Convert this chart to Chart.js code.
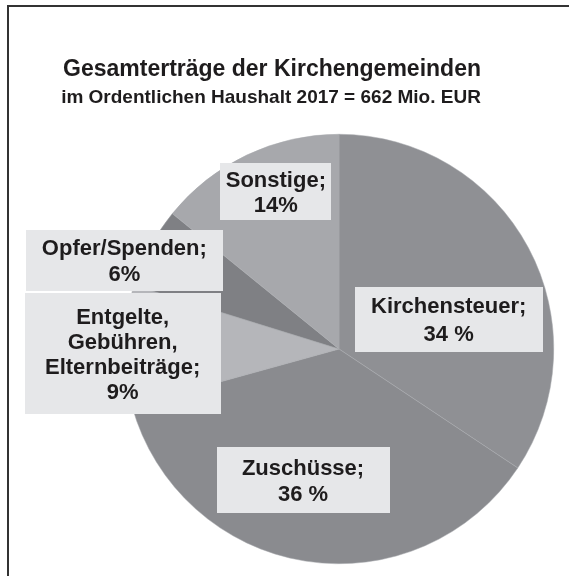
<!DOCTYPE html>
<html>
<head>
<meta charset="utf-8">
<script src="https://cdn.jsdelivr.net/npm/chart.js@4/dist/chart.umd.min.js"></script>
<style>
    body { margin: 0; background: #fff; }
    #wrap { position: relative; width: 569px; height: 576px; overflow: hidden; }
    #frame { position: absolute; left: 7px; top: 5px; width: 700px; height: 700px; border-left: 2px solid #333; border-top: 2px solid #333; }
    #myChart { position: absolute; left: 0; top: 0; }
</style>
</head>
<body>
<div id="wrap">
    <div id="frame"></div>
    <canvas id="myChart" width="569" height="576"></canvas>
</div>
<script>
const categories = [['Kirchensteuer;'], ['Zuschüsse;'], ['Entgelte,', 'Gebühren,', 'Elternbeiträge;'], ['Opfer/Spenden;'], ['Sonstige;']];
const shares = [34, 36, 9, 6, 14];
const pctSep = [' %', ' %', '%', '%', '%'];
const sliceColors = ['#8f9094', '#8a8b8f', '#b5b6ba', '#7f8084', '#a7a8ac'];
const titleText = 'Gesamterträge der Kirchengemeinden';
const subtitleText = 'im Ordentlichen Haushalt 2017 = 662 Mio. EUR';

// label boxes: shift from slice centre, box size, line gap
const boxShift = [[15, 21], [-19, 25], [-109, 6], [-120, -38], [-17, -61]];
const boxSize = [[188, 65], [173, 66], [196, 121], [197, 61], [111, 57]];
const lineGap = [28, 26, 25, 26, 25];

const textFont = 'bold 22px "Liberation Sans", Arial, sans-serif';

const headerPlugin = {
    id: 'header',
    afterDraw: function (chart) {
        const c = chart.ctx;
        c.save();
        c.fillStyle = '#1e1c1d';
        c.textAlign = 'center';
        c.textBaseline = 'alphabetic';
        c.font = 'bold 23px "Liberation Sans", Arial, sans-serif';
        c.fillText(titleText, 272, 76);
        c.font = 'bold 19px "Liberation Sans", Arial, sans-serif';
        c.fillText(subtitleText, 271, 103);
        c.restore();
    }
};

const boxLabels = {
    id: 'boxLabels',
    afterDatasetsDraw: function (chart) {
        const c = chart.ctx, meta = chart.getDatasetMeta(0);
        c.save();
        c.font = textFont;
        c.textAlign = 'center';
        c.textBaseline = 'middle';
        meta.data.forEach(function (arc, i) {
            const p = arc.tooltipPosition();
            const cx = p.x + boxShift[i][0], cy = p.y + boxShift[i][1];
            const w = boxSize[i][0], h = boxSize[i][1];
            c.fillStyle = '#e6e7e9';
            c.fillRect(Math.round(cx - w / 2), Math.round(cy - h / 2), w, h);
            const lines = categories[i].concat([shares[i] + pctSep[i]]);
            const lh = lineGap[i];
            c.fillStyle = '#1e1c1d';
            for (let j = 0; j < lines.length; j++) {
                c.fillText(lines[j], cx, cy + 2 + (j - (lines.length - 1) / 2) * lh);
            }
        });
        c.restore();
    }
};

let myChart = new Chart(document.getElementById('myChart'), {
    type: 'pie',
    data: {
        labels: categories,
        datasets: [{
            data: shares,
            backgroundColor: sliceColors,
            borderColor: '#a9aaae',
            borderWidth: 0.5
        }]
    },
    options: {
        responsive: false,
        animation: false,
        layout: {padding: {left: 124, right: 15, top: 134, bottom: 12}},
        plugins: {
            legend: {display: false},
            title: {display: false},
            tooltip: {enabled: false}
        }
    },
    plugins: [headerPlugin, boxLabels]
});
</script>
</body>
</html>
